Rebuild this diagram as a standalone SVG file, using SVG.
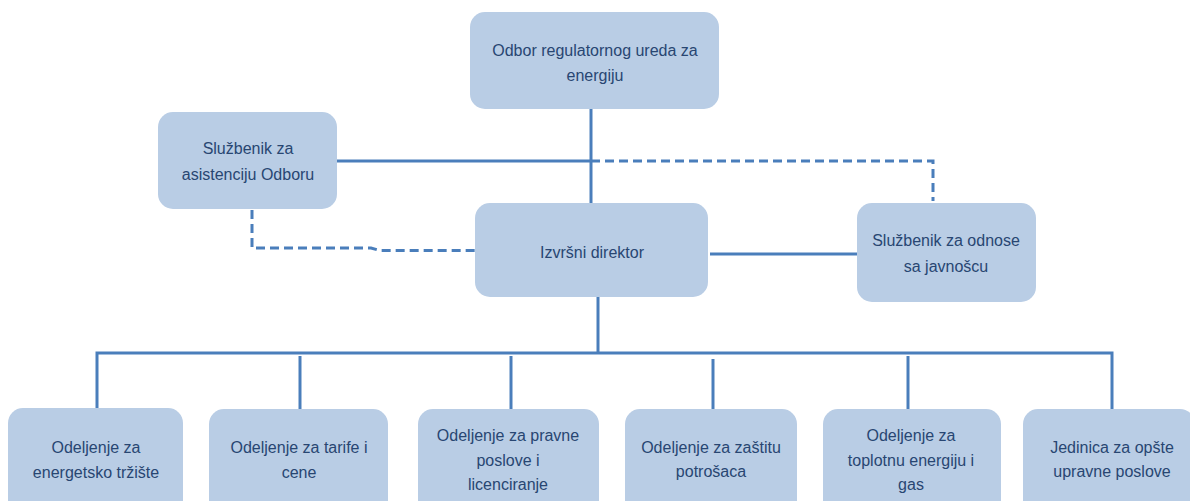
<svg xmlns="http://www.w3.org/2000/svg" width="1190" height="501" viewBox="0 0 1190 501">
  <style>
    .box { fill: #b9cde5; }
    .lbl { font-family: "Liberation Sans", Arial, sans-serif; font-size: 16px; fill: #284672; text-anchor: middle; }
    .solid { fill: none; stroke: #4a7ebb; stroke-width: 3; }
    .dash { fill: none; stroke: #4a7ebb; stroke-width: 3; stroke-dasharray: 9 5; }
  </style>
  <rect width="1190" height="501" fill="#ffffff"/>
  <g id="connectors">
    <path class="solid" d="M591,109 V204"/>
    <path class="solid" d="M337,161 H591"/>
    <path class="dash" d="M591,161 H933 V201"/>
    <path class="dash" d="M252,210 V248 H371 L380,250.5 H475"/>
    <path class="solid" d="M710,254 H857"/>
    <path class="solid" d="M598,297 V353"/>
    <path class="solid" d="M97,408 V353 H1112 V409"/>
    <path class="solid" d="M300,356 V409"/>
    <path class="solid" d="M511,356 V409"/>
    <path class="solid" d="M713,359 V410"/>
    <path class="solid" d="M908,356 V409"/>
  </g>
  <g id="odbor">
    <rect class="box" x="470" y="12" width="249" height="97" rx="15"/>
    <text class="lbl" x="595" y="56">Odbor regulatornog ureda za</text>
    <text class="lbl" x="595" y="81">energiju</text>
  </g>
  <g id="sluzbenik-asistencija">
    <rect class="box" x="158" y="112" width="179" height="97" rx="15"/>
    <text class="lbl" x="248" y="154">Službenik za</text>
    <text class="lbl" x="248" y="180">asistenciju Odboru</text>
  </g>
  <g id="izvrsni-direktor">
    <rect class="box" x="475" y="203" width="233" height="94" rx="15"/>
    <text class="lbl" x="592" y="258">Izvršni direktor</text>
  </g>
  <g id="sluzbenik-javnost">
    <rect class="box" x="857" y="203" width="179" height="99" rx="15"/>
    <text class="lbl" x="946" y="246">Službenik za odnose</text>
    <text class="lbl" x="946" y="272">sa javnošcu</text>
  </g>
  <g id="odeljenje-trziste">
    <rect class="box" x="8" y="408" width="175" height="110" rx="15"/>
    <text class="lbl" x="96" y="453">Odeljenje za</text>
    <text class="lbl" x="96" y="478">energetsko tržište</text>
  </g>
  <g id="odeljenje-tarife">
    <rect class="box" x="209" y="409" width="179" height="110" rx="15"/>
    <text class="lbl" x="299" y="453">Odeljenje za tarife i</text>
    <text class="lbl" x="299" y="478">cene</text>
  </g>
  <g id="odeljenje-pravne">
    <rect class="box" x="418" y="409" width="181" height="110" rx="15"/>
    <text class="lbl" x="508" y="441">Odeljenje za pravne</text>
    <text class="lbl" x="508" y="466">poslove i</text>
    <text class="lbl" x="508" y="490">licenciranje</text>
  </g>
  <g id="odeljenje-zastita">
    <rect class="box" x="625" y="409" width="172" height="110" rx="15"/>
    <text class="lbl" x="711" y="453">Odeljenje za zaštitu</text>
    <text class="lbl" x="711" y="477">potrošaca</text>
  </g>
  <g id="odeljenje-toplotna">
    <rect class="box" x="823" y="409" width="178" height="110" rx="15"/>
    <text class="lbl" x="911" y="441">Odeljenje za</text>
    <text class="lbl" x="911" y="466">toplotnu energiju i</text>
    <text class="lbl" x="911" y="490">gas</text>
  </g>
  <g id="jedinica-opste">
    <rect class="box" x="1023" y="409" width="172" height="110" rx="15"/>
    <text class="lbl" x="1112" y="453">Jedinica za opšte</text>
    <text class="lbl" x="1112" y="477">upravne poslove</text>
  </g>
</svg>
